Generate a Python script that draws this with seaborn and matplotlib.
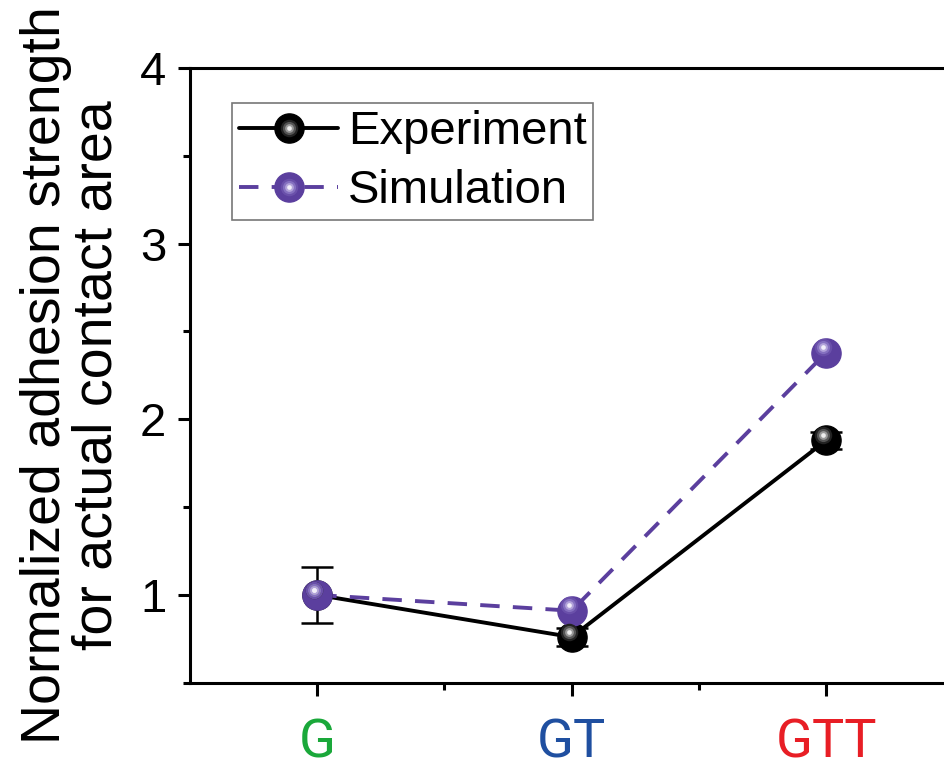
import matplotlib
matplotlib.use("Agg")
import matplotlib.pyplot as plt
import seaborn as sns
import numpy as np
import pandas as pd
from matplotlib.ticker import MultipleLocator, FixedLocator
from matplotlib.lines import Line2D
from matplotlib.legend_handler import HandlerTuple

categories = ["G", "GT", "GTT"]
cat_colors = ["#1aa83a", "#1f4fa0", "#e81e25"]
experiment = [1.00, 0.76, 1.88]
experiment_err = [0.16, 0.05, 0.05]
simulation = [1.00, 0.91, 2.38]

sns.set_theme(style="ticks")
plt.rcParams["font.family"] = ["Liberation Sans", "DejaVu Sans"]
plt.rcParams["text.color"] = "black"
plt.rcParams["xtick.color"] = "black"
plt.rcParams["ytick.color"] = "black"
plt.rcParams["axes.labelcolor"] = "black"

fig = plt.figure(figsize=(9.45, 7.68), dpi=100)
ax = fig.add_axes([0.201, 0.111, 0.808, 0.8005])

x = np.arange(len(categories))
df = pd.DataFrame({"x": np.concatenate([x, x]),
                   "y": experiment + simulation,
                   "series": ["Experiment"] * 3 + ["Simulation"] * 3})

exp_c = "#000000"
sim_c = "#5b3f9e"
lw = 2.8
dash = [5.0, 3.4]

ax.errorbar(x, experiment, yerr=experiment_err, fmt="none", ecolor="black",
            elinewidth=1.8, capsize=11.5, capthick=1.8, zorder=2)
sns.lineplot(data=df[df.series == "Experiment"], x="x", y="y", ax=ax,
             color=exp_c, lw=lw, legend=False, zorder=3)
sns.lineplot(data=df[df.series == "Simulation"], x="x", y="y", ax=ax,
             color=sim_c, lw=lw, legend=False, zorder=3)
ax.lines[-1].set_dashes(dash)

ms = 21
gloss_f = [0.6, 0.45, 0.3, 0.16]
gloss = {exp_c: ["#222222", "#555555", "#999999", "#eeeeee"],
         sim_c: ["#6a50aa", "#8570c0", "#b2a3da", "#f2eefa"]}


def draw_sphere(vals, c):
    vals = np.array(vals)
    ax.plot(x, vals, ls="none", marker="o", ms=ms, mfc=c, mec=c, zorder=4)
    for k, (col, f) in enumerate(zip(gloss[c], gloss_f)):
        ax.plot(x - 0.012, vals + 0.03, ls="none", marker="o", ms=ms * f,
                mfc=col, mec="none", zorder=5 + k)


draw_sphere(experiment, exp_c)
draw_sphere(simulation, sim_c)

ax.set_xlim(-0.5, 2.5)
ax.set_ylim(0.5, 4)
ax.set_xticks(x)
ax.set_xticklabels(categories)
for lab, c in zip(ax.get_xticklabels(), cat_colors):
    lab.set_color(c)
    lab.set_fontfamily(["Roboto", "DejaVu Sans"])
ax.xaxis.set_minor_locator(FixedLocator([0.5, 1.5]))
ax.yaxis.set_major_locator(MultipleLocator(1))
ax.yaxis.set_minor_locator(MultipleLocator(0.5))
ax.tick_params(axis="both", which="major", direction="out", length=9, width=2.2,
               labelsize=34, color="black")
ax.tick_params(axis="both", which="minor", direction="out", length=5, width=2.2)
ax.tick_params(axis="x", pad=16, labelsize=39)
ax.tick_params(axis="y", pad=8)
for s in ["left", "bottom", "top"]:
    ax.spines[s].set_linewidth(2.2)
    ax.spines[s].set_color("black")
ax.spines["right"].set_visible(False)
ax.set_xlabel("")
ax.set_ylabel("Normalized adhesion strength\nfor actual contact area",
              fontsize=40, labelpad=12, linespacing=0.98)


def sphere_handle(c, line):
    parts = [line, Line2D([], [], ls="none", marker="o", ms=ms, mfc=c, mec=c)]
    for col, f in zip(gloss[c], gloss_f):
        parts.append(Line2D([], [], ls="none", marker="o", ms=ms * f, mfc=col, mec="none"))
    return tuple(parts)


eline = Line2D([], [], color=exp_c, lw=lw)
sline = Line2D([], [], color=sim_c, lw=lw, dashes=dash)
leg = ax.legend([sphere_handle(exp_c, eline), sphere_handle(sim_c, sline)],
                ["Experiment", "Simulation"],
                handler_map={tuple: HandlerTuple(ndivide=1, pad=0)},
                loc="upper left", bbox_to_anchor=(0.055, 0.943), fontsize=34,
                frameon=True, fancybox=False, edgecolor="#555555",
                handlelength=2.1, handletextpad=0.2, borderpad=0.15,
                labelspacing=0.32, borderaxespad=0)
leg.get_frame().set_linewidth(1.2)

fig.savefig("out.png", dpi=100)
